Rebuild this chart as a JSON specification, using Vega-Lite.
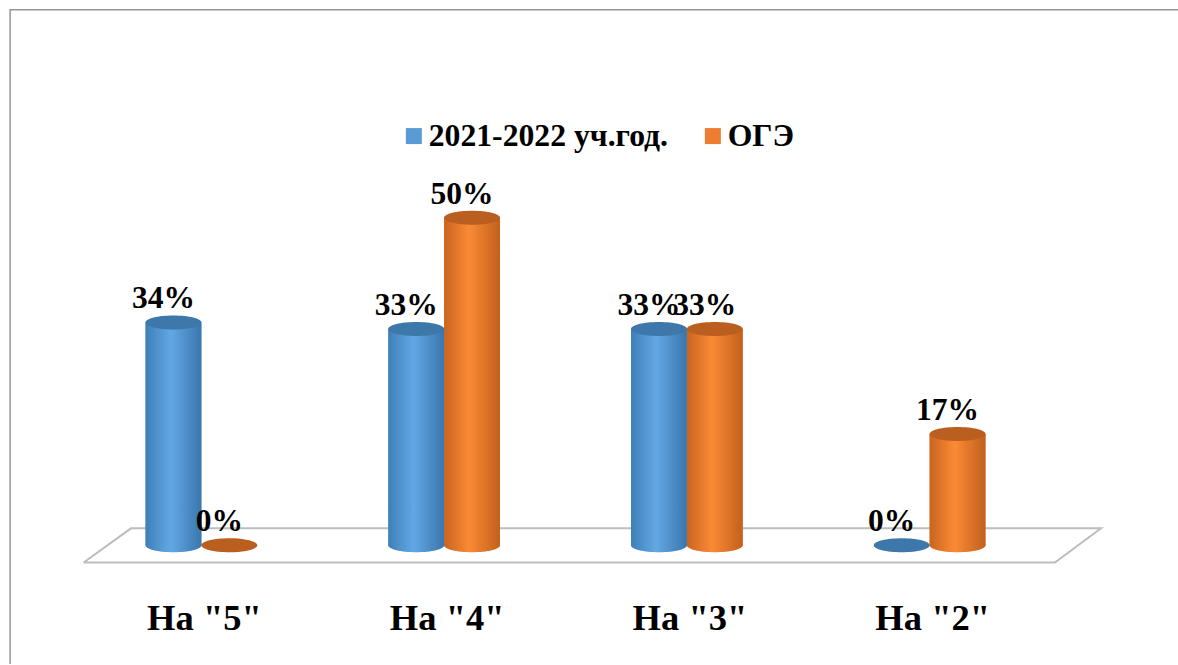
{
"$schema":"https://vega.github.io/schema/vega-lite/v6.json",
"width":971,"height":544,
"autosize":"none",
"padding":{"left":80,"top":21,"right":127,"bottom":100},
"background":"white",
"config":{"view":{"stroke":null}},
"datasets":{
"bars":[
{"cat":"На \"5\"","series":"2021-2022 уч.год.","value":0.34},
{"cat":"На \"5\"","series":"ОГЭ","value":0},
{"cat":"На \"4\"","series":"2021-2022 уч.год.","value":0.33},
{"cat":"На \"4\"","series":"ОГЭ","value":0.50},
{"cat":"На \"3\"","series":"2021-2022 уч.год.","value":0.33},
{"cat":"На \"3\"","series":"ОГЭ","value":0.33},
{"cat":"На \"2\"","series":"2021-2022 уч.год.","value":0},
{"cat":"На \"2\"","series":"ОГЭ","value":0.17}],
"floor":[
{"o":1,"px":0.015,"py":-0.0262},
{"o":2,"px":0.21,"py":0.0259},
{"o":3,"px":4.206,"py":0.0259},
{"o":4,"px":4.016,"py":-0.0262},
{"o":5,"px":0.015,"py":-0.0262}],
"frame":[
{"o":1,"px":-0.288,"py":-0.181},
{"o":2,"px":-0.288,"py":0.817},
{"o":3,"px":4.53,"py":0.817}]
},
"layer":[
{"data":{"name":"frame"},
 "mark":{"type":"line","clip":false,"strokeWidth":1.5,"color":"#969696"},
 "encoding":{
  "x":{"field":"px","type":"quantitative","scale":{"domain":[0,4],"nice":false,"zero":false},"axis":null},
  "y":{"field":"py","type":"quantitative","scale":{"domain":[-0.03,0.8],"nice":false},"axis":null},
  "order":{"field":"o"}}},
{"data":{"name":"floor"},
 "mark":{"type":"line","clip":false,"strokeWidth":2,"color":"#bdbdbd"},
 "encoding":{
  "x":{"field":"px","type":"quantitative","scale":{"domain":[0,4],"nice":false,"zero":false},"axis":null},
  "y":{"field":"py","type":"quantitative","scale":{"domain":[-0.03,0.8],"nice":false},"axis":null},
  "order":{"field":"o"}}},
{"data":{"name":"bars"},
 "encoding":{
  "x":{"field":"cat","type":"nominal","sort":null,"scale":{"paddingInner":0.54,"paddingOuter":0.27},
    "axis":{"title":null,"orient":"bottom","domain":false,"ticks":false,"labelAngle":0,"labelFont":"Liberation Serif","labelFontWeight":"bold","labelFontSize":36.5,"labelColor":"#000","labelPadding":35,"labelOffset":3}},
  "xOffset":{"field":"series","sort":null,"scale":{"paddingInner":0,"paddingOuter":0,"domain":["2021-2022 уч.год.","ОГЭ"]}},
  "y":{"field":"value","type":"quantitative","scale":{"domain":[-0.03,0.8],"nice":false},"axis":null}
 },
 "layer":[
  {"mark":{"type":"bar","clip":false},
   "encoding":{
    "y2":{"datum":0},
    "fill":{"field":"series","type":"nominal","sort":null,
      "scale":{"domain":["2021-2022 уч.год.","ОГЭ"],"range":["#5b9bd5","#ed7d31"]},
      "legend":{"orient":"none","legendX":318,"legendY":99,"direction":"horizontal","title":null,"symbolType":"square","symbolSize":256,"symbolStrokeWidth":0,"symbolOpacity":1,"labelFont":"Liberation Serif","labelFontWeight":"bold","labelFontSize":31.7,"labelColor":"#000","labelOffset":-1,"columnPadding":28,"labelLimit":400}}}},
  {"transform":[{"filter":"datum.series === 'ОГЭ' && datum.value > 0"}],
   "layer":[
    {"mark":{"type":"point","filled":true,"opacity":1,"clip":false,"size":3136,"shape":"M-1,0 A1,0.25 0 1 1 1,0 A1,0.25 0 1 1 -1,0Z","fill":{"gradient":"linear","x1":0,"x2":1,"y1":0,"y2":0,"stops":[{"offset":0,"color":"#c9651f"},{"offset":0.45,"color":"#fb8a35"},{"offset":1,"color":"#c2601c"}]}},
     "encoding":{"y":{"datum":0}}},
    {"mark":{"type":"bar","clip":false,"fill":{"gradient":"linear","x1":0,"x2":1,"y1":0,"y2":0,"stops":[{"offset":0,"color":"#c9651f"},{"offset":0.45,"color":"#fb8a35"},{"offset":1,"color":"#c2601c"}]}},
     "encoding":{"y2":{"datum":0}}}
   ]},
  {"transform":[{"filter":"datum.series !== 'ОГЭ' && datum.value > 0"}],
   "layer":[
    {"mark":{"type":"point","filled":true,"opacity":1,"clip":false,"size":3136,"shape":"M-1,0 A1,0.25 0 1 1 1,0 A1,0.25 0 1 1 -1,0Z","fill":{"gradient":"linear","x1":0,"x2":1,"y1":0,"y2":0,"stops":[{"offset":0,"color":"#3f7fb8"},{"offset":0.45,"color":"#62a8e4"},{"offset":1,"color":"#3a76ad"}]}},
     "encoding":{"y":{"datum":0}}},
    {"mark":{"type":"bar","clip":false,"fill":{"gradient":"linear","x1":0,"x2":1,"y1":0,"y2":0,"stops":[{"offset":0,"color":"#3f7fb8"},{"offset":0.45,"color":"#62a8e4"},{"offset":1,"color":"#3a76ad"}]}},
     "encoding":{"y2":{"datum":0}}}
   ]},
  {"transform":[{"filter":"datum.series === 'ОГЭ'"}],
   "mark":{"type":"point","filled":true,"opacity":1,"clip":false,"size":3136,"shape":"M-1,0 A1,0.25 0 1 1 1,0 A1,0.25 0 1 1 -1,0Z","fill":"#bb5f20"}},
  {"transform":[{"filter":"datum.series !== 'ОГЭ'"}],
   "mark":{"type":"point","filled":true,"opacity":1,"clip":false,"size":3136,"shape":"M-1,0 A1,0.25 0 1 1 1,0 A1,0.25 0 1 1 -1,0Z","fill":"#3e78ab"}},
  {"mark":{"type":"text","dx":-10,"dy":-23,"font":"Liberation Serif","fontWeight":"bold","fontSize":31.5,"color":"#000"},
   "encoding":{"text":{"field":"value","type":"quantitative","format":".0%"}}}
 ]}
],
"resolve":{"scale":{"x":"independent","y":"shared"}}
}
